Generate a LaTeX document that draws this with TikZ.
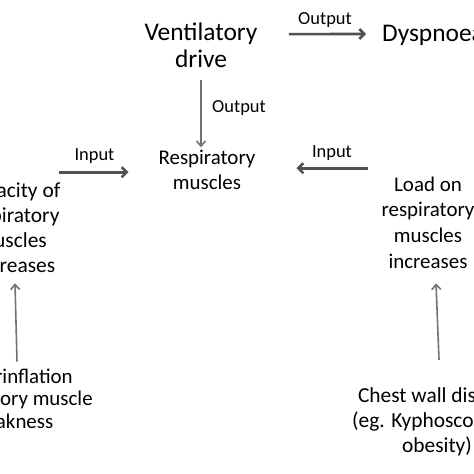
\documentclass[tikz,border=0pt]{standalone}
\usepackage{fontspec}
\setmainfont{Carlito}
\usetikzlibrary{arrows.meta}
\tikzset{
  big/.style={inner sep=0pt, anchor=base, align=center, font=\fontsize{25.5}{28}\selectfont},
  mid/.style={inner sep=0pt, anchor=base, align=center, font=\fontsize{21}{25}\selectfont},
  lab/.style={inner sep=0pt, anchor=base, font=\fontsize{18.5}{22}\selectfont},
  harr/.style={draw=black!68, line width=2.6bp, -{Straight Barb[length=5bp,width=10bp]}},
  varr/.style={draw=black!55, line width=1.6bp, -{Straight Barb[length=5bp,width=9bp]}}
}
\begin{document}
\begin{tikzpicture}[x=1bp,y=-1bp]
\useasboundingbox (0,0) rectangle (474,474);
\fill[white] (0,0) rectangle (474,474);
\clip (0,0) rectangle (474,474);
\node[big] (vent) at (201,68) {Ventilatory\\drive};
\node[big] (dysp) at (433,42) {Dyspnoea};
\node[mid, font=\fontsize{21}{26}\selectfont] (resp) at (207,190) {Respiratory\\muscles};
\node[mid, font=\fontsize{21.5}{25}\selectfont] (cap) at (12,272) {Capacity of\\respiratory\\muscles\\decreases};
\node[mid, font=\fontsize{21}{25.7}\selectfont] (load) at (428,268) {Load on\\respiratory\\muscles\\increases};
\node[mid, font=\fontsize{21}{22.5}\selectfont] (hyper) at (12,428) {Hyperinflation\\Respiratory muscle\\weakness};
\node[mid, font=\fontsize{21.5}{25}\selectfont] (chest) at (437,452) {Chest wall disease\\(eg. Kyphoscoliosis,\\obesity)};
\node[lab] (out1) at (325,25) {Output};
\node[lab] (out2) at (239,113) {Output};
\node[lab] (in1) at (94.5,161) {Input};
\node[lab] (in2) at (332,158) {Input};
% connectors
\draw[harr] ([xshift=31.3bp,yshift=11.2bp]vent.east) -- ([xshift=-15.8bp,yshift=1.9bp]dysp.west);
\draw[varr, shorten <=12bp, shorten >=2.3bp] (vent.south) -- (resp.north -| vent.south);
\draw[harr] ([xshift=-1.4bp,yshift=-2.3bp]cap.east |- resp.west) -- ([xshift=-29.9bp,yshift=-2.3bp]resp.west);
\draw[harr] ([xshift=-13.9bp,yshift=1.7bp]load.west |- resp.east) -- ([xshift=40.9bp,yshift=1.7bp]resp.east);
\draw[varr] ([xshift=5bp,yshift=7bp]hyper.north) -- ([xshift=3bp,yshift=-11bp]cap.south);
\draw[varr] ([xshift=2bp,yshift=27.3bp]chest.north) -- ([xshift=8bp,yshift=-15bp]load.south);
\end{tikzpicture}
\end{document}
